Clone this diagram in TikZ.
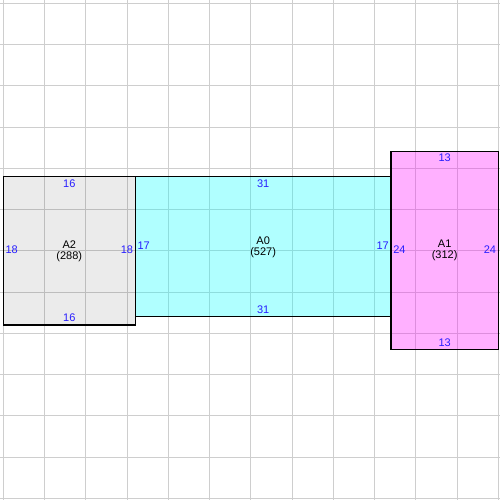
\documentclass[tikz,border=0pt]{standalone}
\usepackage{fontspec}
\setmainfont{Liberation Sans}
\definecolor{gridc}{RGB}{206,206,206}
\definecolor{dimc}{RGB}{40,30,255}
\definecolor{purecyan}{RGB}{0,255,255}
\definecolor{puremag}{RGB}{255,0,255}
\tikzset{
  gridline/.style={draw=gridc, line width=0.03cm},
  areabox/.style={draw=black, line width=0.04cm},
  dimlabel/.style={text=dimc, inner sep=0pt, font=\fontsize{9.4}{11}\selectfont},
  namelabel/.style={text=black, inner sep=0pt, align=center, font=\fontsize{9.4}{11}\selectfont},
}
\begin{document}
\begin{tikzpicture}[x=0.2475cm, y=-0.2475cm]
\useasboundingbox (-0.4,-0.4) rectangle (60.206,60.206);
\fill[white] (-0.4,-0.4) rectangle (60.206,60.206);
% grid
\foreach \k in {0,5,...,60} {
  \draw[gridline] (\k,-0.4) -- (\k,60.206);
  \draw[gridline] (-0.4,\k) -- (60.206,\k);
}
% fills
\fill[black, fill opacity=0.078] (0,21) rectangle (16,39);
\fill[purecyan, fill opacity=0.31] (16,21) rectangle (47,38);
\fill[puremag, fill opacity=0.31] (47,18) rectangle (60,42);
% borders
\draw[areabox] (0,21) rectangle (16,39);
\draw[areabox] (16,21) rectangle (47,38);
\draw[areabox] (47,18) rectangle (60,42);
% A2
\node[namelabel] (a2name) at (8,30.05) {A2\\[-1.5pt](288)};
\node[dimlabel] (a2t) at (8,21.85) {16};
\node[dimlabel] (a2b) at (8,38.1) {16};
\node[dimlabel, anchor=west] (a2l) at (0.25,29.9) {18};
\node[dimlabel, anchor=east] (a2r) at (15.75,29.9) {18};
% A0
\node[namelabel] (a0name) at (31.5,29.55) {A0\\[-1.5pt](527)};
\node[dimlabel] (a0t) at (31.5,21.85) {31};
\node[dimlabel] (a0b) at (31.5,37.15) {31};
\node[dimlabel, anchor=west] (a0l) at (16.25,29.4) {17};
\node[dimlabel, anchor=east] (a0r) at (46.75,29.4) {17};
% A1
\node[namelabel] (a1name) at (53.5,29.9) {A1\\[-1.5pt](312)};
\node[dimlabel] (a1t) at (53.5,18.7) {13};
\node[dimlabel] (a1b) at (53.5,41.15) {13};
\node[dimlabel, anchor=west] (a1l) at (47.25,29.9) {24};
\node[dimlabel, anchor=east] (a1r) at (59.75,29.9) {24};
\end{tikzpicture}
\end{document}
